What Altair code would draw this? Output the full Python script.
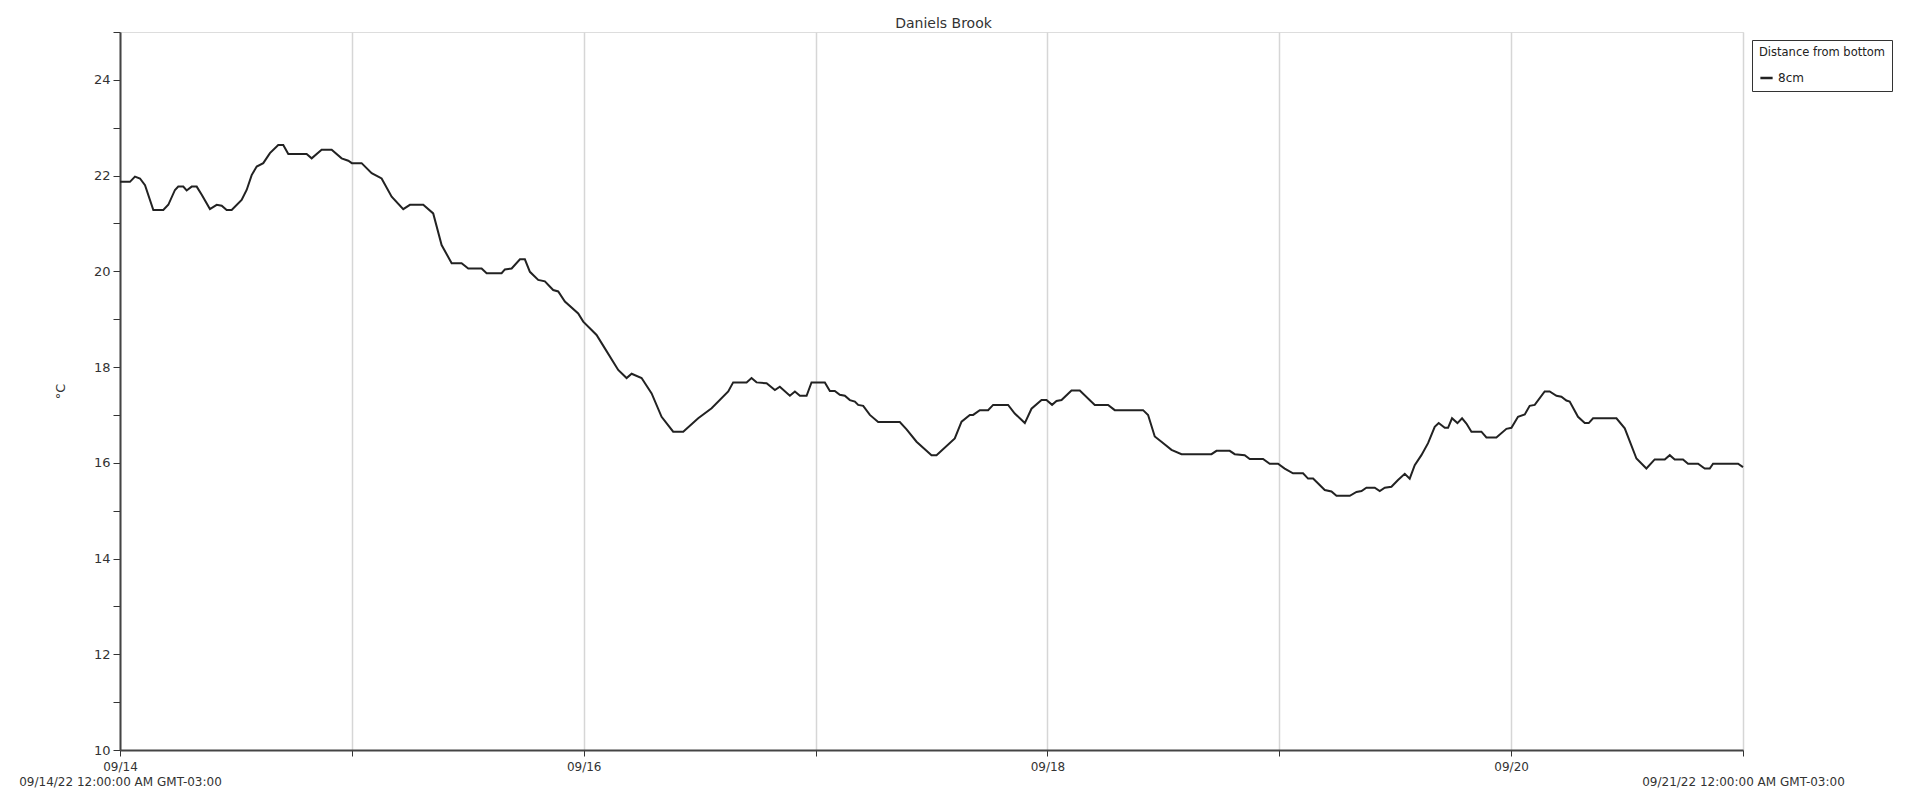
import altair as alt
import pandas as pd

# Hours since 09/14/22 00:00 and water temperature (°C)
hours = [0, 1.03, 1.55, 2.07, 2.59, 3.45, 4.48, 5.0, 5.69, 6.03, 6.55, 6.90, 7.42, 7.94, 8.46, 9.31,
         10.01, 10.53, 11.04, 11.56, 12.59, 13.11, 13.63, 14.15, 14.83, 15.52, 16.38, 16.90, 17.42,
         19.32, 19.84, 20.87, 21.91, 22.94, 23.63, 24.0, 25.01, 26.05, 26.73, 27.08, 28.12, 29.32,
         30.01, 31.39, 32.42, 33.29, 34.33, 35.36, 36.05, 37.43, 37.95, 39.50, 39.84, 40.54, 41.40,
         41.91, 42.43, 43.29, 43.98, 44.84, 45.36, 46.05, 47.43, 47.95, 49.33, 50.19, 51.57, 52.44,
         52.96, 53.99, 55.03, 56.06, 57.26, 58.30, 59.85, 61.24, 62.96, 63.47, 64.86, 65.37, 65.89,
         66.93, 67.79, 68.30, 69.34, 69.86, 70.38, 71.07, 71.58, 72.96, 73.48, 73.99, 74.51, 75.03,
         75.55, 76.07, 76.41, 76.93, 77.62, 78.48, 80.72, 81.42, 82.45, 84.00, 84.52, 86.41, 87.11,
         87.97, 88.31, 89.00, 89.86, 90.38, 91.93, 92.62, 93.66, 94.35, 95.39, 95.90, 96.48, 96.94,
         97.46, 98.49, 99.35, 100.90, 102.28, 102.97, 105.90, 106.42, 107.11, 107.80, 108.84, 109.88,
         112.98, 113.50, 114.87, 115.39, 116.42, 116.94, 118.32, 119.01, 119.87, 120.56, 121.42,
         122.46, 122.98, 123.50, 124.71, 125.40, 125.92, 127.30, 127.99, 128.51, 129.02, 129.88,
         130.40, 130.92, 131.61, 132.29, 132.99, 133.50, 134.02, 134.71, 135.40, 136.09, 136.50,
         137.13, 137.47, 137.88, 138.44, 138.92, 139.37, 139.89, 140.92, 141.44, 142.47, 143.51,
         144.03, 144.71, 145.41, 145.92, 146.44, 147.47, 147.99, 148.69, 149.20, 149.72, 150.06,
         150.92, 151.62, 152.03, 152.48, 154.90, 155.76, 156.97, 158.00, 158.86, 159.90, 160.42,
         160.93, 161.79, 162.31, 163.35, 164.04, 164.56, 164.90, 167.49, 168.0]

temps = [21.87, 21.87, 21.98, 21.94, 21.80, 21.28, 21.28, 21.39, 21.70, 21.77, 21.77, 21.69, 21.77,
         21.77, 21.60, 21.30, 21.39, 21.37, 21.28, 21.28, 21.49, 21.70, 22.01, 22.19, 22.26, 22.47,
         22.64, 22.64, 22.45, 22.45, 22.36, 22.54, 22.54, 22.36, 22.31, 22.26, 22.26, 22.05, 21.98,
         21.94, 21.56, 21.30, 21.39, 21.39, 21.21, 20.55, 20.17, 20.17, 20.06, 20.06, 19.96, 19.96,
         20.04, 20.06, 20.25, 20.25, 19.99, 19.82, 19.79, 19.61, 19.58, 19.37, 19.12, 18.95, 18.67,
         18.39, 17.94, 17.77, 17.86, 17.77, 17.45, 16.96, 16.65, 16.65, 16.93, 17.14, 17.49, 17.68,
         17.68, 17.77, 17.68, 17.66, 17.52, 17.59, 17.40, 17.49, 17.40, 17.40, 17.68, 17.68, 17.50,
         17.50, 17.42, 17.40, 17.31, 17.28, 17.21, 17.19, 17.00, 16.85, 16.85, 16.70, 16.44, 16.16,
         16.16, 16.51, 16.86, 17.00, 17.00, 17.10, 17.10, 17.21, 17.21, 17.03, 16.83, 17.13, 17.31,
         17.31, 17.21, 17.29, 17.31, 17.51, 17.51, 17.21, 17.21, 17.10, 17.10, 17.00, 16.55, 16.44,
         16.27, 16.18, 16.18, 16.25, 16.25, 16.18, 16.16, 16.08, 16.08, 15.98, 15.98, 15.88, 15.78,
         15.78, 15.67, 15.67, 15.43, 15.40, 15.31, 15.31, 15.39, 15.41, 15.48, 15.48, 15.41, 15.48,
         15.50, 15.64, 15.77, 15.67, 15.95, 16.16, 16.41, 16.75, 16.83, 16.73, 16.73, 16.93, 16.83,
         16.93, 16.82, 16.65, 16.65, 16.53, 16.53, 16.71, 16.73, 16.96, 17.01, 17.19, 17.21, 17.49,
         17.49, 17.40, 17.38, 17.30, 17.28, 16.96, 16.83, 16.83, 16.93, 16.93, 16.72, 16.09, 15.88,
         16.07, 16.07, 16.16, 16.07, 16.07, 15.98, 15.98, 15.88, 15.88, 15.98, 15.98, 15.91]

series_name = "8cm"
day_numbers = [14, 15, 16, 17, 18, 19, 20, 21]
start_label = "09/14/22 12:00:00 AM GMT-03:00"
end_label = "09/21/22 12:00:00 AM GMT-03:00"
y_ticks = list(range(10, 26))

start = pd.Timestamp("2022-09-14T00:00:00")
times = [(start + pd.Timedelta(hours=h)).strftime("%Y-%m-%dT%H:%M:%S") + "Z" for h in hours]
df = pd.DataFrame({"time": times, "temp": temps, "series": series_name})

FONT = "DejaVu Sans"
day_values = [alt.DateTime(year=2022, month=9, date=d, utc=True) for d in day_numbers]

label_expr = (
    f"utcdate(datum.value) == 14 ? ['09/14', '{start_label}'] : "
    f"utcdate(datum.value) == 21 ? ['', '{end_label}'] : "
    "(utcdate(datum.value) % 2 == 0 ? utcFormat(datum.value, '%m/%d') : '')"
)

chart = alt.Chart(df).mark_line(strokeWidth=2, color="#333333").encode(
    x=alt.X(
        "time:T",
        scale=alt.Scale(type="utc", domain=[day_values[0], day_values[-1]], nice=False),
        axis=alt.Axis(
            title=None,
            values=day_values,
            labelExpr=label_expr,
            grid=True,
            gridColor="#d6d6d6",
            gridWidth=1.5,
            tickSize=6,
            tickColor="#333333",
            domainColor="#444444",
            domainWidth=2,
            labelFont=FONT,
            labelFontSize=12,
            labelColor="#333333",
            labelPadding=5,
            labelLineHeight=15,
            labelLimit=0,
            labelOverlap=False,
            labelFlush=False,
            labelBound=False,
        ),
    ),
    y=alt.Y(
        "temp:Q",
        scale=alt.Scale(domain=[10, 25], nice=False, zero=False),
        axis=alt.Axis(
            title="°C",
            values=y_ticks,
            labelExpr="datum.value % 2 == 0 ? datum.label : ''",
            grid=False,
            tickSize=7,
            tickColor="#333333",
            domainColor="#444444",
            domainWidth=2,
            labelFont=FONT,
            labelFontSize=13,
            labelColor="#333333",
            labelPadding=3,
            titleFont=FONT,
            titleFontSize=13,
            titleFontWeight="normal",
            titleColor="#333333",
            titlePadding=26,
        ),
    ),
    color=alt.Color(
        "series:N",
        scale=alt.Scale(range=["#222222"]),
        legend=alt.Legend(
            title="Distance from bottom",
            orient="none",
            legendX=1632,
            legendY=8,
            strokeColor="#333333",
            padding=7,
            titleFont=FONT,
            titleFontSize=11.5,
            titleFontWeight="normal",
            titleColor="#222222",
            labelFont=FONT,
            labelFontSize=12,
            labelColor="#222222",
            symbolType="stroke",
            symbolStrokeWidth=2.5,
            symbolSize=150,
            titlePadding=12,
        ),
    ),
).properties(
    width=1623,
    height=718,
    padding={"left": 112, "top": 24, "right": 160, "bottom": 40},
    autosize=alt.AutoSizeParams(type="none"),
    title=alt.Title("Daniels Brook", font=FONT, fontSize=14, fontWeight="normal",
                    color="#333333", dx=12, offset=1),
).configure_view(stroke=None).configure(background="white")

chart.save("out.html", embed_options={"renderer": "svg", "actions": False})
